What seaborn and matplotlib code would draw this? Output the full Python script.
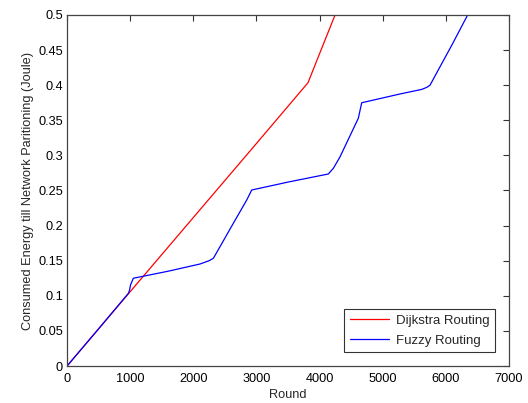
import matplotlib
matplotlib.use("Agg")
import matplotlib.pyplot as plt
import seaborn as sns
import pandas as pd

dijkstra_round = [0, 970, 1200, 2000, 3000, 3817, 4000, 4245]
dijkstra_energy = [0, 0.1027, 0.127, 0.2115, 0.317, 0.4036, 0.445, 0.5]

fuzzy_round = [0, 500, 971, 990, 1005, 1050, 1600, 2106, 2250, 2317, 2423, 2600, 2846, 2925,
               3500, 4138, 4218, 4324, 4614, 4667, 5274, 5617, 5700, 5749, 5900, 6100, 6345]
fuzzy_energy = [0, 0.053, 0.1035, 0.108, 0.1154, 0.125, 0.135, 0.1453, 0.150, 0.1534, 0.170, 0.198, 0.2365, 0.2507,
                0.262, 0.2735, 0.2816, 0.298, 0.353, 0.375, 0.3875, 0.394, 0.397, 0.400, 0.425, 0.458, 0.5]

df = pd.concat([
    pd.DataFrame({"Round": dijkstra_round, "Energy": dijkstra_energy, "Method": "Dijkstra Routing"}),
    pd.DataFrame({"Round": fuzzy_round, "Energy": fuzzy_energy, "Method": "Fuzzy Routing"}),
])

sns.set_style("white")
plt.rcParams['font.family'] = ['Liberation Sans', 'DejaVu Sans']

fig = plt.figure(figsize=(5.28, 4.03), dpi=100)
ax = fig.add_axes([0.127, 0.0918, 0.837, 0.871])
sns.lineplot(data=df, x="Round", y="Energy", hue="Method", palette={"Dijkstra Routing": "#ff0000", "Fuzzy Routing": "#0000ff"},
             sort=False, estimator=None, linewidth=0.9, ax=ax)

ax.set_xlim(0, 7000)
ax.set_ylim(0, 0.5)
ax.set_xticks(range(0, 7001, 1000))
ax.set_yticks([0, 0.05, 0.1, 0.15, 0.2, 0.25, 0.3, 0.35, 0.4, 0.45, 0.5])
ax.set_yticklabels(["0", "0.05", "0.1", "0.15", "0.2", "0.25", "0.3", "0.35", "0.4", "0.45", "0.5"])
ax.tick_params(direction="in", top=True, right=True, length=4, width=0.8, labelsize=9.2, colors="#333333", labelcolor="black")
ax.tick_params(axis="x", pad=5)
ax.tick_params(axis="y", pad=3)
for s in ax.spines.values():
    s.set_color("#444444")
    s.set_linewidth(0.9)
ax.set_xlabel("Round", fontsize=9.2, labelpad=3)
ax.set_ylabel("Consumed Energy till Network Paritioning (Joule)", fontsize=9.2, labelpad=3)

leg = ax.legend(loc="lower right", fontsize=9.5, frameon=True, fancybox=False, borderaxespad=1.05,
                handlelength=3.0, borderpad=0.42, labelspacing=0.55, handletextpad=0.5)
leg.get_frame().set_edgecolor("black")
leg.get_frame().set_linewidth(0.8)
leg.set_title(None)

fig.savefig("out.png", dpi=100)
